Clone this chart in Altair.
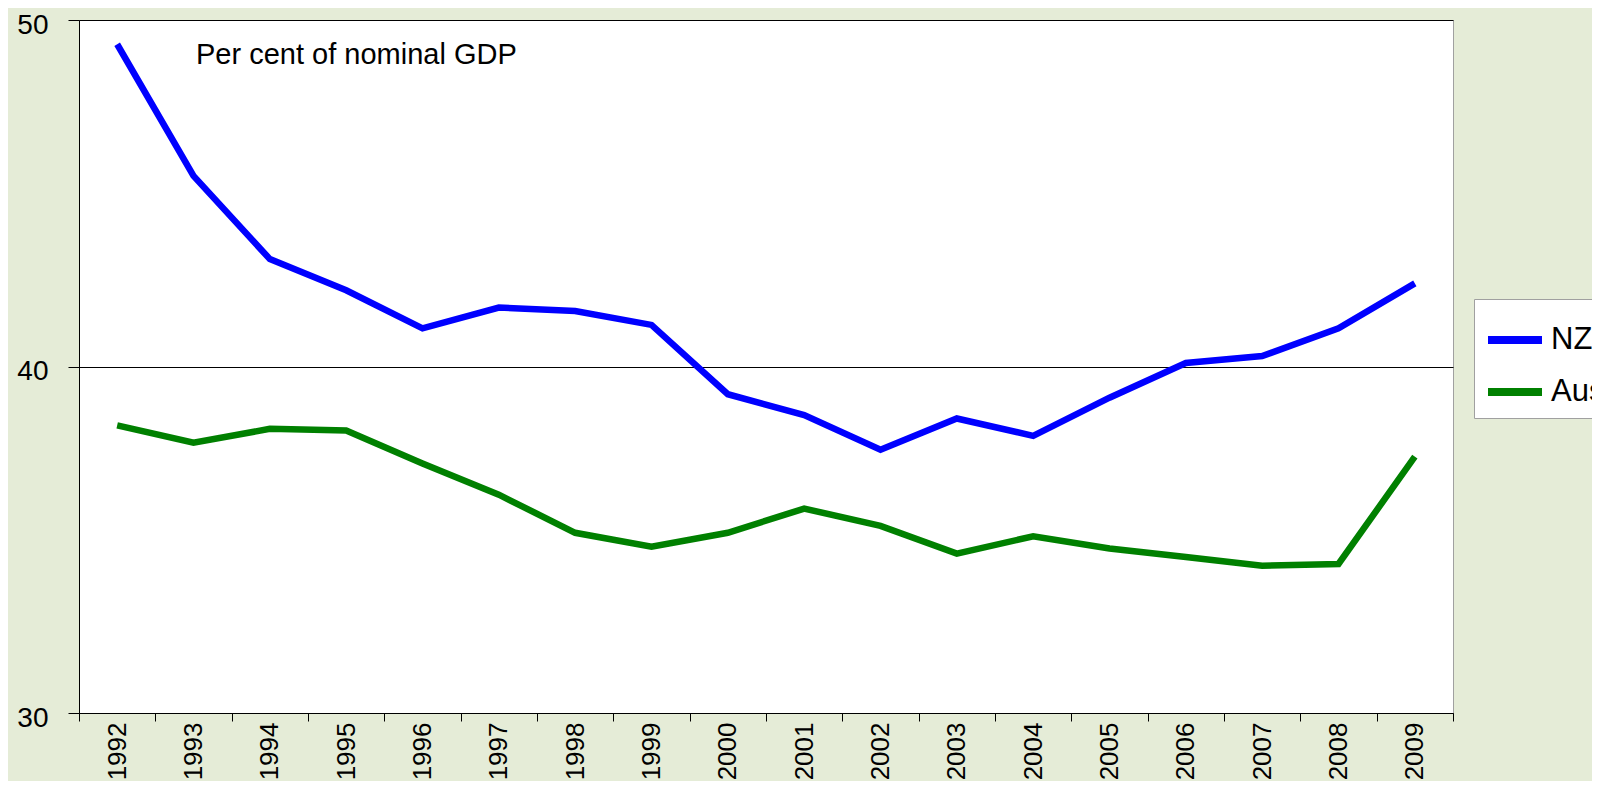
import altair as alt
import pandas as pd

years = [str(y) for y in range(1992, 2010)]
nz = [49.3, 45.5, 43.1, 42.2, 41.1, 41.7, 41.6, 41.2, 39.2, 38.6, 37.6, 38.5, 38.0,
      39.1, 40.1, 40.3, 41.1, 42.4]
aus = [38.3, 37.8, 38.2, 38.15, 37.2, 36.3, 35.2, 34.8, 35.2, 35.9, 35.4, 34.6, 35.1,
       34.75, 34.5, 34.25, 34.3, 37.4]
series_names = ["NZ", "Australia"]
series_colors = ["#0000FF", "#008000"]

rows = []
for i, y in enumerate(years):
    rows.append({"year": y, "series": "NZ", "value": nz[i]})
    rows.append({"year": y, "series": "Australia", "value": aus[i]})
df = pd.DataFrame(rows)

FONT = "Liberation Sans"

lines = alt.Chart(df).mark_line(strokeWidth=6.5, strokeJoin="miter").encode(
    x=alt.X("year:O", title=None, sort=years,
            scale=alt.Scale(paddingInner=0, paddingOuter=0),
            axis=alt.Axis(labelAngle=270, labelAlign="right", labelBaseline="middle",
                          labelFontSize=26, labelFont=FONT, labelColor="#000000",
                          tickBand="extent", tickSize=8, tickColor="#000000",
                          domainColor="#000000", labelPadding=1, grid=False)),
    y=alt.Y("value:Q", title=None,
            scale=alt.Scale(domain=[30, 50], nice=False, zero=False),
            axis=alt.Axis(values=[30, 40, 50], labelFontSize=28, labelFont=FONT,
                          labelColor="#000000", tickSize=11, tickColor="#000000",
                          domainColor="#000000", grid=True, gridColor="#000000",
                          gridOpacity=1, labelPadding=20, labelOffset=5)),
    color=alt.Color("series:N", sort=series_names,
                    scale=alt.Scale(domain=series_names, range=series_colors),
                    legend=alt.Legend(title=None, orient="none", legendX=1395, legendY=279,
                                      symbolType="stroke", symbolSize=2916,
                                      symbolStrokeWidth=8, labelFontSize=31,
                                      labelFont=FONT, labelColor="#000000",
                                      labelOffset=5, rowPadding=5, padding=10,
                                      fillColor="#FFFFFF", strokeColor="#A0A0A0",
                                      cornerRadius=0)),
)

note = alt.Chart(pd.DataFrame({"t": ["Per cent of nominal GDP"]})).mark_text(
    align="left", baseline="alphabetic", fontSize=29, font=FONT, color="#000000"
).encode(text="t:N", x=alt.value(117), y=alt.value(44))

chart = alt.layer(lines, note).properties(
    width=1374, height=693,
    background="#E5ECD7",
    padding={"left": 71, "top": 12, "right": 139, "bottom": 68},
    autosize=alt.AutoSizeParams(type="none"),
).configure_view(fill="#FFFFFF", stroke="#A0A0A0", strokeWidth=1)

chart.save("out.html", embed_options={"renderer": "svg", "actions": False})
